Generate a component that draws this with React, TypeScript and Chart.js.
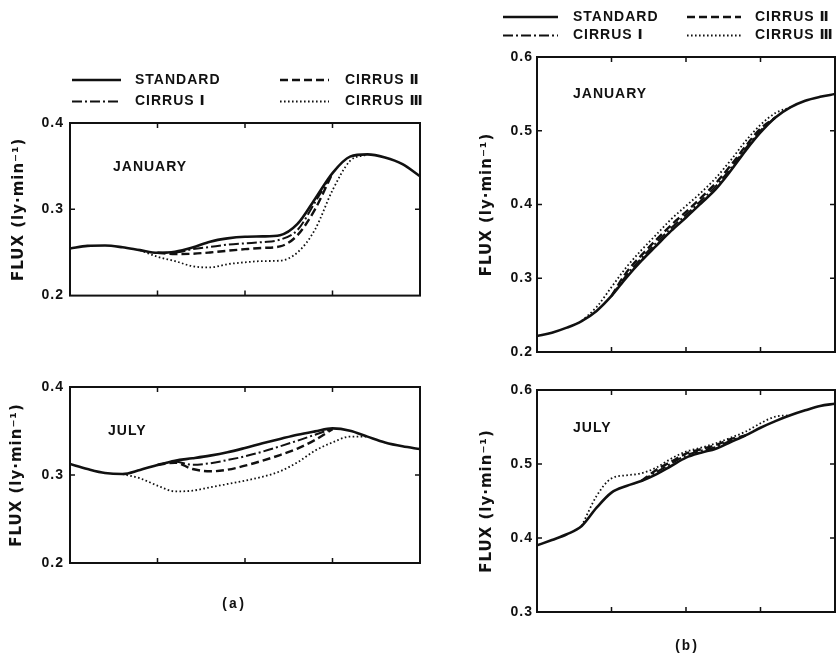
import React, { useEffect, useRef } from "react";
import { Chart, registerables } from "chart.js";

Chart.register(...registerables);

// ---- shared axis / series definitions ----
const X_GRID = [0, 0.2, 0.4, 0.6, 0.8, 1.0, 1.2, 1.4, 1.6, 1.8, 2.0, 2.2, 2.4, 2.6, 2.8, 3.0, 3.2, 3.4, 3.6, 3.8, 4.0];
const X_TICKS = [1, 2, 3];
const SERIES_NAMES = ["STANDARD", "CIRRUS Ⅰ", "CIRRUS Ⅱ", "CIRRUS Ⅲ"];
const AXIS_TITLE = "FLUX (ly·min⁻¹)";

const A_TICKS = [0.2, 0.3, 0.4];
const B_JAN_TICKS = [0.2, 0.3, 0.4, 0.5, 0.6];
const B_JUL_TICKS = [0.3, 0.4, 0.5, 0.6];

const _ = null;

// ---- (a) January ----
const A_JAN_STANDARD = [0.2545, 0.2576, 0.258, 0.256, 0.2527, 0.2496, 0.2508, 0.2557, 0.2625, 0.2663, 0.2682, 0.2686, 0.27, 0.283, 0.312, 0.342, 0.361, 0.3636, 0.36, 0.3523, 0.3383];
const A_JAN_CIRRUS1 = [_, _, _, _, _, 0.2496, 0.25, 0.2538, 0.2564, 0.259, 0.2606, 0.262, 0.2648, 0.276, 0.308, 0.342, _, _, _, _, _];
const A_JAN_CIRRUS2 = [_, _, _, _, _, 0.2496, 0.2482, 0.2485, 0.25, 0.252, 0.2538, 0.2553, 0.257, 0.27, 0.3, 0.342, _, _, _, _, _];
const A_JAN_CIRRUS3 = [_, _, _, _, 0.2527, 0.245, 0.24, 0.234, 0.2326, 0.2364, 0.2386, 0.24, 0.2405, 0.25, 0.2765, 0.322, 0.356, 0.3636, _, _, _];

// ---- (a) July ----
const A_JUL_STANDARD = [0.3125, 0.3068, 0.3023, 0.3011, 0.3057, 0.3114, 0.3163, 0.319, 0.322, 0.3258, 0.3307, 0.336, 0.341, 0.3458, 0.3496, 0.353, 0.3504, 0.3436, 0.337, 0.3326, 0.3295];
const A_JUL_CIRRUS1 = [_, _, _, _, _, 0.3114, 0.3152, 0.3117, 0.3133, 0.317, 0.3212, 0.3265, 0.3326, 0.339, 0.3458, 0.3525, _, _, _, _, _];
const A_JUL_CIRRUS2 = [_, _, _, _, _, 0.3114, 0.314, 0.3068, 0.3042, 0.306, 0.3106, 0.3163, 0.3227, 0.33, 0.3398, 0.352, _, _, _, _, _];
const A_JUL_CIRRUS3 = [_, _, _, 0.3011, 0.2962, 0.2879, 0.2814, 0.2822, 0.286, 0.2898, 0.2936, 0.298, 0.3042, 0.3144, 0.3277, 0.337, 0.3436, 0.3436, _, _, _];

// ---- (b) January ----
const B_JAN_STANDARD = [0.2217, 0.2262, 0.233, 0.242, 0.2557, 0.276, 0.3009, 0.3235, 0.344, 0.3643, 0.3824, 0.4014, 0.4208, 0.4457, 0.473, 0.4977, 0.518, 0.5317, 0.5407, 0.546, 0.5498];
const B_JAN_CIRRUS1 = [_, _, _, _, _, 0.276, 0.304, 0.327, 0.348, 0.368, 0.386, 0.405, 0.425, 0.449, 0.476, 0.5, 0.518, _, _, _, _];
const B_JAN_CIRRUS2 = [_, _, _, _, _, 0.276, 0.308, 0.331, 0.352, 0.372, 0.39, 0.409, 0.429, 0.453, 0.479, 0.503, 0.518, _, _, _, _];
const B_JAN_CIRRUS3 = [_, _, _, 0.242, 0.261, 0.288, 0.315, 0.338, 0.359, 0.38, 0.398, 0.416, 0.436, 0.46, 0.486, 0.508, 0.524, 0.5317, _, _, _];

// ---- (b) July ----
const B_JUL_STANDARD = [0.39, 0.3973, 0.405, 0.4162, 0.441, 0.4613, 0.4703, 0.477, 0.486, 0.4973, 0.5086, 0.5153, 0.5207, 0.5297, 0.5387, 0.549, 0.558, 0.5658, 0.5725, 0.5784, 0.5815];
const B_JUL_CIRRUS1 = [_, _, _, _, _, _, _, 0.477, 0.489, 0.5005, 0.5115, 0.5178, 0.523, 0.5315, 0.5387, _, _, _, _, _, _];
const B_JUL_CIRRUS2 = [_, _, _, _, _, _, _, 0.477, 0.492, 0.503, 0.514, 0.52, 0.5255, 0.5335, 0.5387, _, _, _, _, _, _];
const B_JUL_CIRRUS3 = [_, _, _, 0.4162, 0.4568, 0.4806, 0.4847, 0.4874, 0.495, 0.5072, 0.5167, 0.522, 0.528, 0.5356, 0.5437, 0.555, 0.564, 0.5658, _, _, _];

// ---- styling ----
const INK = "#111";
const TICK_LEN = 5;
const SERIES_STYLE = [
  { width: 2.6, dash: [] as number[] },
  { width: 2, dash: [10, 3, 2, 3] },
  { width: 2.4, dash: [8, 4] },
  { width: 1.8, dash: [1.6, 2.4] },
];
const LABEL_FONT = "bold 14px 'Liberation Sans', 'DejaVu Sans', sans-serif";

type Box = { left: number; top: number; width: number; height: number };
type LegendSpec = { rows: number[]; col1: [number, number, number]; col2: [number, number, number] };
type PanelSpec = {
  key: string;
  box: Box;
  yAxisWidth: number;
  padding: { top: number; bottom: number; right: number };
  yTicks: number[];
  tickPad: number;
  titlePad: number;
  series: (number | null)[][];
  month: string;
  monthAt: [number, number];
  legend?: LegendSpec;
  caption?: { text: string; at: [number, number] };
};

const PANELS: PanelSpec[] = [
  {
    key: "a-jan",
    box: { left: 0, top: 60, width: 430, height: 250 },
    yAxisWidth: 70,
    padding: { top: 63, bottom: 11, right: 10 },
    yTicks: A_TICKS,
    tickPad: 6,
    titlePad: 10,
    series: [A_JAN_STANDARD, A_JAN_CIRRUS1, A_JAN_CIRRUS2, A_JAN_CIRRUS3],
    month: "JANUARY",
    monthAt: [113, 167.5],
    legend: { rows: [80, 101.5], col1: [72, 121, 135], col2: [280, 329, 345] },
  },
  {
    key: "a-jul",
    box: { left: 0, top: 330, width: 430, height: 290 },
    yAxisWidth: 70,
    padding: { top: 57, bottom: 57, right: 10 },
    yTicks: A_TICKS,
    tickPad: 6,
    titlePad: 8,
    series: [A_JUL_STANDARD, A_JUL_CIRRUS1, A_JUL_CIRRUS2, A_JUL_CIRRUS3],
    month: "JULY",
    monthAt: [108, 431.5],
    caption: { text: "(a)", at: [233, 604] },
  },
  {
    key: "b-jan",
    box: { left: 440, top: 0, width: 396, height: 365 },
    yAxisWidth: 97,
    padding: { top: 57, bottom: 13, right: 1 },
    yTicks: B_JAN_TICKS,
    tickPad: 4,
    titlePad: 38,
    series: [B_JAN_STANDARD, B_JAN_CIRRUS1, B_JAN_CIRRUS2, B_JAN_CIRRUS3],
    month: "JANUARY",
    monthAt: [573, 94],
    legend: { rows: [17, 35.5], col1: [503, 558, 573], col2: [687, 741, 755] },
  },
  {
    key: "b-jul",
    box: { left: 440, top: 370, width: 396, height: 286 },
    yAxisWidth: 97,
    padding: { top: 20, bottom: 44, right: 1 },
    yTicks: B_JUL_TICKS,
    tickPad: 4,
    titlePad: 38,
    series: [B_JUL_STANDARD, B_JUL_CIRRUS1, B_JUL_CIRRUS2, B_JUL_CIRRUS3],
    month: "JULY",
    monthAt: [573, 428.5],
    caption: { text: "(b)", at: [686, 646] },
  },
];

// Frame, inward ticks, month label, legend and panel caption
function decorPlugin(spec: PanelSpec) {
  const ox = spec.box.left;
  const oy = spec.box.top;
  return {
    id: "panelDecor",
    beforeDraw(chart: any) {
      const ctx = chart.ctx;
      ctx.letterSpacing = "1px";
      ctx.save();
      ctx.fillStyle = "#fff";
      ctx.fillRect(0, 0, chart.width, chart.height);
      ctx.restore();
    },
    afterDraw(chart: any) {
      const ctx = chart.ctx;
      const { left, right, top, bottom } = chart.chartArea;
      const xs = chart.scales.x;
      const ys = chart.scales.y;
      ctx.save();
      ctx.strokeStyle = INK;
      ctx.setLineDash([]);
      ctx.lineWidth = 2;
      ctx.strokeRect(left, top, right - left, bottom - top);

      ctx.lineWidth = 1.5;
      ctx.beginPath();
      for (const v of X_TICKS) {
        const px = xs.getPixelForValue(v);
        ctx.moveTo(px, bottom);
        ctx.lineTo(px, bottom - TICK_LEN);
        ctx.moveTo(px, top);
        ctx.lineTo(px, top + TICK_LEN);
      }
      for (const t of ys.ticks) {
        const py = ys.getPixelForValue(t.value);
        if (py <= top + 1 || py >= bottom - 1) continue;
        ctx.moveTo(left, py);
        ctx.lineTo(left + TICK_LEN, py);
        ctx.moveTo(right, py);
        ctx.lineTo(right - TICK_LEN, py);
      }
      ctx.stroke();

      ctx.fillStyle = INK;
      ctx.font = LABEL_FONT;
      ctx.letterSpacing = "1px";
      ctx.textBaseline = "middle";
      ctx.textAlign = "left";
      ctx.fillText(spec.month, spec.monthAt[0] - ox, spec.monthAt[1] - oy);

      if (spec.legend) {
        const lg = spec.legend;
        const slots = [
          { series: 0, row: 0, col: lg.col1 },
          { series: 2, row: 0, col: lg.col2 },
          { series: 1, row: 1, col: lg.col1 },
          { series: 3, row: 1, col: lg.col2 },
        ];
        for (const s of slots) {
          const st = SERIES_STYLE[s.series];
          const y = lg.rows[s.row] - oy;
          ctx.lineWidth = st.width;
          ctx.setLineDash(st.dash);
          ctx.beginPath();
          ctx.moveTo(s.col[0] - ox, y);
          ctx.lineTo(s.col[1] - ox, y);
          ctx.stroke();
          ctx.setLineDash([]);
          ctx.fillText(SERIES_NAMES[s.series], s.col[2] - ox, y);
        }
      }

      if (spec.caption) {
        ctx.font = "bold 14px 'Liberation Mono', 'DejaVu Sans Mono', monospace";
        ctx.letterSpacing = "0px";
        ctx.textAlign = "center";
        ctx.fillText(spec.caption.text, spec.caption.at[0] - ox, spec.caption.at[1] - oy);
      }
      ctx.restore();
    },
  };
}

function Panel({ spec }: { spec: PanelSpec }) {
  const ref = useRef<HTMLCanvasElement | null>(null);

  useEffect(() => {
    const canvas = ref.current;
    if (!canvas) return;
    const datasets = spec.series.map((values, i) => ({
      label: SERIES_NAMES[i],
      data: X_GRID.map((x, j) => ({ x, y: values[j] })),
      borderColor: INK,
      borderWidth: SERIES_STYLE[i].width,
      borderDash: SERIES_STYLE[i].dash,
      pointRadius: 0,
      fill: false,
      cubicInterpolationMode: "monotone" as const,
      spanGaps: false,
    }));
    const yMin = spec.yTicks[0];
    const yMax = spec.yTicks[spec.yTicks.length - 1];
    const chart = new Chart(canvas, {
      type: "line",
      data: { datasets },
      options: {
        animation: false,
        responsive: false,
        devicePixelRatio: 1,
        layout: { padding: { left: 0, top: spec.padding.top, bottom: spec.padding.bottom, right: spec.padding.right } },
        plugins: { legend: { display: false }, tooltip: { enabled: false } },
        events: [],
        scales: {
          x: { type: "linear", min: 0, max: 4, display: false },
          y: {
            type: "linear",
            min: yMin,
            max: yMax,
            afterBuildTicks: (scale: any) => {
              scale.ticks = spec.yTicks.map((v) => ({ value: v }));
            },
            afterFit: (scale: any) => {
              scale.width = spec.yAxisWidth;
            },
            grid: { display: false, drawTicks: false },
            border: { display: false },
            ticks: {
              color: INK,
              padding: spec.tickPad,
              font: { family: "'Liberation Sans', sans-serif", weight: "bold", size: 14 },
              callback: (v: any) => Number(v).toFixed(1),
            },
            title: {
              display: true,
              text: AXIS_TITLE,
              color: INK,
              padding: { top: spec.titlePad, bottom: 0 },
              font: { family: "'DejaVu Sans', sans-serif", weight: "bold", size: 15 },
            },
          },
        },
      },
      plugins: [decorPlugin(spec)],
    } as any);
    return () => chart.destroy();
  }, [spec]);

  return (
    <canvas
      ref={ref}
      width={spec.box.width}
      height={spec.box.height}
      style={{
        position: "absolute",
        left: spec.box.left,
        top: spec.box.top,
        width: spec.box.width,
        height: spec.box.height,
      }}
    />
  );
}

export default function App() {
  return (
    <div
      style={{
        position: "absolute",
        left: 0,
        top: 0,
        width: 836,
        height: 656,
        background: "#fff",
        overflow: "hidden",
      }}
    >
      {PANELS.map((p) => (
        <Panel key={p.key} spec={p} />
      ))}
    </div>
  );
}
